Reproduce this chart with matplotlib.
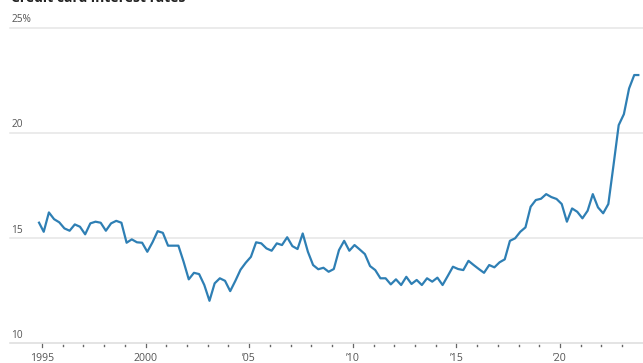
import numpy as np
import pandas as pd
import matplotlib
matplotlib.use("Agg")
import matplotlib.pyplot as plt
from matplotlib.transforms import blended_transform_factory

plt.rcParams['font.family'] = ['Open Sans', 'DejaVu Sans']

# quarterly credit card rate (accounts assessed interest), Nov 1994 - Nov 2023
rates = [
    15.78, 15.30, 16.22, 15.90, 15.75, 15.46, 15.35, 15.65, 15.54, 15.18,
    15.70, 15.78, 15.73, 15.35, 15.70, 15.82, 15.73, 14.78, 14.94, 14.80,
    14.78, 14.35, 14.80, 15.33, 15.25, 14.64, 14.64, 14.64, 13.88, 13.04,
    13.35, 13.29, 12.77, 12.02, 12.85, 13.09, 12.97, 12.48, 12.97, 13.50,
    13.83, 14.11, 14.80, 14.75, 14.51, 14.40, 14.75, 14.67, 15.04, 14.62,
    14.48, 15.22, 14.35, 13.72, 13.52, 13.59, 13.40, 13.53, 14.43, 14.87,
    14.40, 14.67, 14.46, 14.24, 13.67, 13.48, 13.09, 13.09, 12.80, 13.04,
    12.77, 13.16, 12.82, 13.01, 12.77, 13.09, 12.93, 13.12, 12.77, 13.20,
    13.64, 13.53, 13.48, 13.92, 13.72, 13.53, 13.35, 13.72, 13.61, 13.85,
    13.99, 14.87, 14.99, 15.30, 15.51, 16.49, 16.81, 16.87, 17.09, 16.95,
    16.86, 16.62, 15.78, 16.41, 16.25, 15.94, 16.30, 17.09, 16.46, 16.18,
    16.62, 18.47, 20.37, 20.89, 22.11, 22.75, 22.75,
]
dates = pd.date_range("1994-11-01", periods=len(rates), freq="3MS")
years = dates.year + (dates.month - 1) / 12.0

y_ticks = [10, 15, 20, 25]
y_labels = ["10", "15", "20", "25%"]
x_major = [1995, 2000, 2005, 2010, 2015, 2020]
x_labels = ["1995", "2000", "\u201905", "\u201910", "\u201915", "\u201920"]
x_minor = list(range(1996, 2024))

fig = plt.figure(figsize=(6.43, 3.63), dpi=100)
ax = fig.add_axes([10 / 643, 19.7 / 363, 633 / 643, 315.6 / 363])
ax.set_xlim(1993.456, 2024.006)
ax.set_ylim(10, 25)
ax.axis("off")

grey = "#555555"
trans = blended_transform_factory(ax.transAxes, ax.transData)

# horizontal gridlines with labels sitting on top of them
for v, lab in zip(y_ticks, y_labels):
    ax.plot([0, 1], [v, v], transform=trans, color="#e6e6e6" if v > 10 else "#dddddd",
            lw=1.1, zorder=1, clip_on=False)
    ax.text(0.002, v + 0.12, lab, transform=trans, ha="left", va="bottom",
            fontsize=7.3, color=grey)

# x ticks below the baseline
for yr in x_major:
    ax.plot([yr, yr], [9.96, 9.82], color="#666666", lw=0.9, clip_on=False)
for yr in x_minor:
    if yr not in x_major:
        ax.plot([yr, yr], [9.92, 9.86], color="#666666", lw=1.0, clip_on=False)
for yr, lab in zip(x_major, x_labels):
    ax.text(yr, 9.55, lab, ha="center", va="top", fontsize=7.6, color=grey,
            clip_on=False)

ax.plot(years, rates, color="#2e7fb4", lw=1.6, zorder=3,
        solid_joinstyle="round", solid_capstyle="butt")

# headline, partly above the top edge of the figure
fig.text(11 / 643, 1 - 2.2 / 363, "Credit card interest rates", ha="left",
         va="baseline", fontsize=10, fontweight="bold", color="#222222")

fig.savefig("out.png", dpi=100)
